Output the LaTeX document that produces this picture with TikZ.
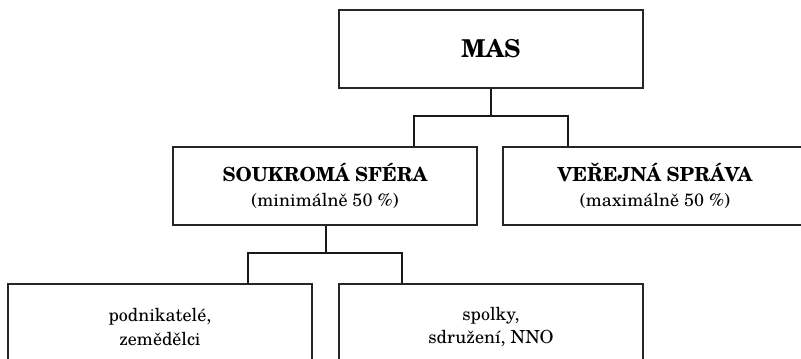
\documentclass[tikz,border=0pt]{standalone}
\usepackage{fontspec}
\setmainfont{TeX Gyre Schola}
\newcommand{\headline}[1]{{\fontsize{9.7}{12.5}\selectfont\bfseries #1}}
\begin{document}
\begin{tikzpicture}[x=0.5pt,y=-0.5pt,
  box/.style={draw=black!85, line width=0.7pt, minimum width=152pt,
    minimum height=39pt, align=center, inner sep=0pt,
    font=\fontsize{9}{12.2}\selectfont},
  lowbox/.style={box, minimum height=43pt, font=\fontsize{9}{11.6}\selectfont},
  conn/.style={draw=black!90, line width=0.6pt}]
\useasboundingbox (0,0) rectangle (801,358);
\clip (0,0) rectangle (801,358);

% organisation chart
\node[box, font=\fontsize{12.3}{14}\selectfont\bfseries] (mas) at (491,49) {MAS};
\node[box] (sok) at (325,186) {\headline{SOUKROMÁ SFÉRA}\\(minimálně 50 \%)};
\node[box] (ver) at (655,186) {\headline{VEŘEJNÁ SPRÁVA}\\(maximálně 50 \%)};
\node[lowbox] (pod) at (160,327) {podnikatelé,\\zemědělci};
\node[lowbox] (spo) at (491,327) {spolky,\\sdružení, NNO};

% branch points
\coordinate (b1) at (491,116);
\coordinate (b2) at (326,253);

\draw[conn] (mas.south) -- (b1);
\draw[conn] (414,0 |- sok.north) |- (b1) -| (568,0 |- ver.north);
\draw[conn] (326,0 |- sok.south) -- (b2);
\draw[conn] (248,0 |- pod.north) |- (b2) -| (402,0 |- spo.north);
\end{tikzpicture}
\end{document}
